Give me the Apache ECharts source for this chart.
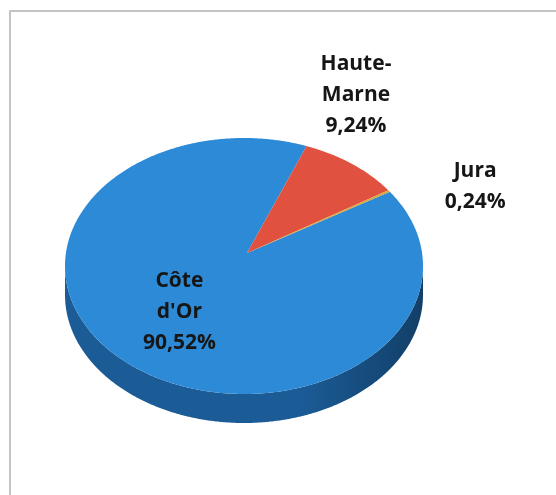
<!DOCTYPE html>
<html>
<head>
<meta charset="utf-8">
<script src="https://cdn.jsdelivr.net/npm/echarts@6/dist/echarts.min.js"></script>
<style>
html,body{margin:0;padding:0;background:#fff;}
#chart{width:556px;height:495px;}
</style>
</head>
<body>
<div id="chart"></div>
<script>
// ---- data ----
var categories = ["Côte d'Or", "Haute-Marne", "Jura"];
var values = [90.52, 9.24, 0.24];
var labelTexts = ["Côte\nd'Or\n90,52%", "Haute-\nMarne\n9,24%", "Jura\n0,24%"];

// ---- layout / style ----
var CX = 244, CY = 266, RX = 179, RY = 128;   // top face ellipse
var AX = 247, AY = 253;                        // perspective apex (projected centre)
var DEPTH = 29;
var START = -35.4;                             // screen angle (deg, clockwise from +x) of first slice
var topColors = ['#2d8ad6', '#e0513f', '#d9a63a'];
var sideColors = ['#1b5c97', '#9e3326', '#9a7326'];
var sideDark = ['#123f68', '#6e2219', '#6a4f19'];
var labelLayout = [
  {inside: true, f: 0.62, dy: -4},
  {dx: 4, dy: -22, v: 'bottom'},
  {dx: 86, dy: -5, v: 'middle'}
];

var total = values.reduce(function (a, b) { return a + b; }, 0);
function rad(d) { return d * Math.PI / 180; }
function pt(d, off) {
  return [CX + RX * Math.cos(rad(d)), CY + RY * Math.sin(rad(d)) + (off || 0)];
}
function arcPts(a0, a1, off) {
  var n = Math.max(2, Math.ceil(Math.abs(a1 - a0) / 0.5));
  var res = [];
  for (var k = 0; k <= n; k++) res.push(pt(a0 + (a1 - a0) * k / n, off));
  return res;
}

function renderItem(params, api) {
  var i = params.dataIndex;
  var v = api.value(1);
  var cum = 0;
  for (var j = 0; j < i; j++) cum += values[j];
  var a0 = START + 360 * cum / total;
  var a1 = a0 + 360 * v / total;
  var children = [];

  // visible side (front half: 0..180 deg)
  for (var k = -1; k <= 1; k++) {
    var s = Math.max(a0, 0 + 360 * k), e = Math.min(a1, 180 + 360 * k);
    if (e > s) {
      var top = arcPts(s, e, 0);
      var bot = arcPts(e, s, DEPTH);
      children.push({
        type: 'polygon', z2: 1,
        shape: {points: top.concat(bot)},
        style: {
          fill: new echarts.graphic.LinearGradient(0, 0, 1, 0, [
            {offset: 0, color: sideColors[i]},
            {offset: 0.65, color: sideColors[i]},
            {offset: 1, color: sideDark[i]}
          ])
        }
      });
    }
  }
  // top face slice
  var pts = [[AX, AY]].concat(arcPts(a0, a1, 0));
  children.push({
    type: 'polygon', z2: 2,
    shape: {points: pts},
    style: {fill: topColors[i]}
  });

  // label
  var mid = (a0 + a1) / 2;
  var L = labelLayout[i];
  var lx, ly, va;
  if (L.inside) {
    lx = AX + L.f * RX * Math.cos(rad(mid));
    ly = AY + L.f * RY * Math.sin(rad(mid)) + L.dy;
    va = 'middle';
  } else {
    var ep = pt(mid, 0);
    lx = ep[0] + L.dx; ly = ep[1] + L.dy; va = L.v;
  }
  children.push({
    type: 'text', z2: 5,
    x: lx, y: ly,
    style: {
      text: labelTexts[i],
      fill: '#161616',
      font: 'bold 21px "Open Sans", sans-serif',
      lineHeight: 31,
      align: 'center',
      verticalAlign: va
    }
  });
  return {type: 'group', children: children};
}

var chart = echarts.init(document.getElementById('chart'), null, {renderer: 'canvas'});
chart.setOption({
  animation: false,
  backgroundColor: '#ffffff',
  graphic: [
    {type: 'polyline', shape: {points: [[10, 495], [10, 11], [556, 11]]},
     style: {stroke: '#c4c4c4', lineWidth: 2, fill: null}}
  ],
  series: [{
    type: 'custom',
    coordinateSystem: 'none',
    name: 'Répartition',
    data: values.map(function (v, i) { return [i, v, categories[i]]; }),
    renderItem: renderItem
  }]
});
</script>
</body>
</html>
